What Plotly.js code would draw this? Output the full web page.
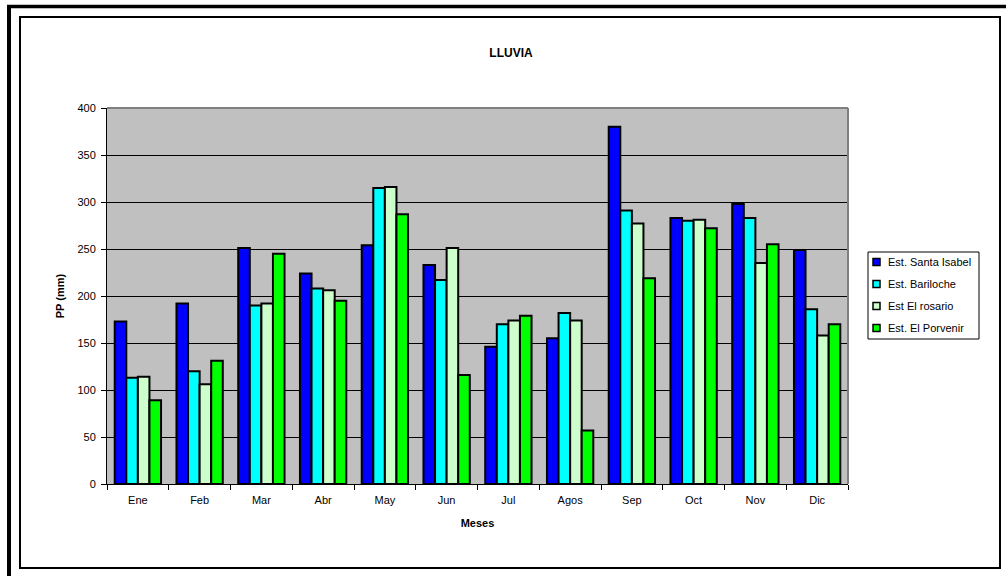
<!DOCTYPE html>
<html>
<head>
<meta charset="utf-8">
<script src="https://cdn.plot.ly/plotly-3.0.1.min.js"></script>
<style>html,body{margin:0;padding:0;background:#fff;}#chart{width:1006px;height:576px;}</style>
</head>
<body>
<div id="chart"></div>
<script>
var meses = ["Ene","Feb","Mar","Abr","May","Jun","Jul","Agos","Sep","Oct","Nov","Dic"];
var santaIsabel = [173,192,251,224,254,233,146,155,380,283,298,249];
var bariloche   = [113,120,190,208,315,217,170,182,291,280,283,186];
var elRosario   = [114,106,192,206,316,251,174,174,277,281,235,158];
var elPorvenir  = [89,131,245,195,287,116,179,57,219,272,255,170];
var seriesNames = ["Est. Santa Isabel","Est. Bariloche","Est El rosario","Est. El Porvenir"];
var seriesColors = ["#0000ff","#00ffff","#ccffcc","#00ff00"];
var seriesData = [santaIsabel, bariloche, elRosario, elPorvenir];

var W = 1006, H = 576;
var L = 107, R = 848, T = 108, B = 484;
function px(X){ return (X - L) / (R - L); }
function py(Y){ return (B - Y) / (B - T); }

var traces = seriesData.map(function(d, i){
  return {
    type: "bar", name: seriesNames[i], x: meses, y: d,
    marker: {color: seriesColors[i], line: {color: "#000", width: 2}}
  };
});

var FAM = "Liberation Sans, Arial, sans-serif";
var font = {family: FAM, size: 11, color: "#000"};

var shapes = [
  {type:"line", xref:"paper", yref:"paper", x0:0, x1:1, y0:1, y1:1, line:{color:"#808080", width:2}},
  {type:"line", xref:"paper", yref:"paper", x0:1, x1:1, y0:0, y1:1, line:{color:"#808080", width:2}},
  {type:"line", xref:"paper", yref:"paper", x0:px(7), x1:px(1006), y0:py(6.5), y1:py(6.5), line:{color:"#000", width:3.5}},
  {type:"line", xref:"paper", yref:"paper", x0:px(9), x1:px(9), y0:py(5), y1:py(576), line:{color:"#000", width:4}},
  {type:"rect", xref:"paper", yref:"paper", x0:px(20), x1:px(1000), y0:py(17), y1:py(568), line:{color:"#000", width:2}},
  // legend box
  {type:"rect", xref:"paper", yref:"paper", x0:px(868), x1:px(979), y0:py(252), y1:py(339), fillcolor:"#fff", line:{color:"#000", width:1}}
];
var annotations = [];
var rowY = [262, 284, 306, 328];
seriesNames.forEach(function(n, i){
  shapes.push({type:"rect", xref:"paper", yref:"paper", x0:px(873), x1:px(880), y0:py(rowY[i]-3.5), y1:py(rowY[i]+3.5),
               fillcolor: seriesColors[i], line:{color:"#000", width:1.5}});
  annotations.push({xref:"paper", yref:"paper", x:px(886), y:py(rowY[i]), xanchor:"left", yanchor:"middle",
                    text: n, showarrow:false, font:{family:FAM, size:11, color:"#000"}});
});

var layout = {
  width: W, height: H,
  margin: {l: L, r: W - R, t: T, b: H - B, pad: 0},
  paper_bgcolor: "#fff",
  plot_bgcolor: "#c0c0c0",
  font: font,
  barmode: "group",
  bargap: 0.25,
  bargroupgap: 0,
  showlegend: false,
  title: {text: "<b>LLUVIA</b>", x: 511/W, xref: "container", y: 1 - 53/H, yref: "container", xanchor: "center", yanchor: "middle",
          font: {family: FAM, size: 12, color: "#000"}},
  xaxis: {
    type: "category",
    showline: true, linecolor: "#000", linewidth: 1,
    ticks: "outside", ticklen: 5, tickcolor: "#000", tickson: "boundaries",
    ticklabelstandoff: 6,
    showgrid: false, zeroline: false,
    tickfont: font,
    title: {text: "<b>Meses</b>", font: {family: FAM, size: 11, color: "#000"}, standoff: 14}
  },
  yaxis: {
    range: [0, 400], dtick: 50,
    showline: true, linecolor: "#000", linewidth: 1,
    ticks: "outside", ticklen: 5, tickcolor: "#000",
    ticklabelstandoff: 3,
    showgrid: true, gridcolor: "#000", gridwidth: 1,
    zeroline: false,
    tickfont: font,
    title: {text: "<b>PP (mm)</b>", font: {family: FAM, size: 11, color: "#000"}, standoff: 10}
  },
  shapes: shapes,
  annotations: annotations
};

Plotly.newPlot("chart", traces, layout, {displayModeBar: false, staticPlot: true});
</script>
</body>
</html>
